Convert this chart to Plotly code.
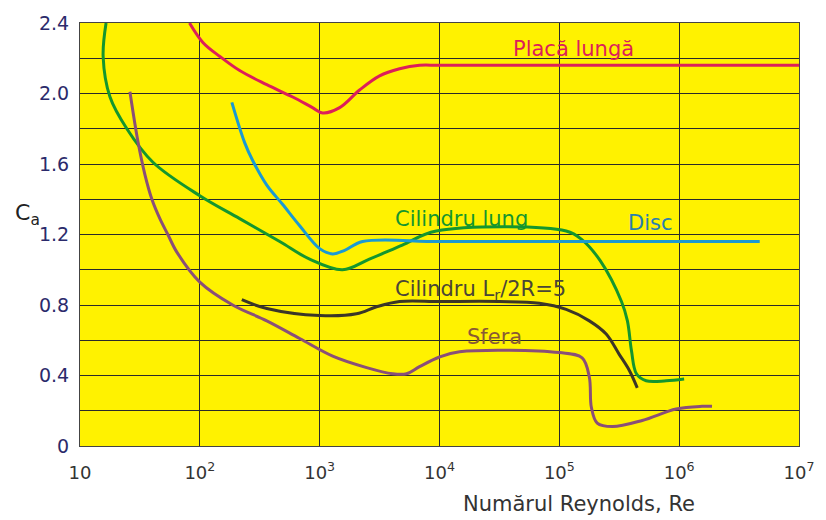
import plotly.graph_objects as go
import math

# ---------------- data (Re, Ca) ----------------
placa_re = [82, 106, 147, 215, 362, 596, 871, 1059, 1468, 2154, 3162, 4642, 6813, 1e4, 1e5, 1e6, 1e7]
placa_ca = [2.40, 2.29, 2.21, 2.13, 2.05, 1.98, 1.92, 1.89, 1.92, 2.02, 2.10, 2.14, 2.16, 2.16, 2.16, 2.16, 2.16]

cil_lung_re = [16.5, 15.6, 17.8, 24.6, 40.6, 100, 215, 464, 825, 1550, 2600, 4900, 9400,
               1.14e5, 1.55e5, 2.2e5, 3.3e5, 3.7e5, 4.0e5, 4.4e5, 5.3e5, 7.8e5, 1.1e6]
cil_lung_ca = [2.40, 2.21, 1.98, 1.80, 1.61, 1.42, 1.29, 1.16, 1.06, 1.00, 1.06, 1.14, 1.22,
               1.22, 1.17, 1.05, 0.82, 0.71, 0.54, 0.41, 0.37, 0.37, 0.38]

disc_re = [185, 237, 276, 362, 492, 681, 1000, 1283, 1616, 2280, 1e4, 1e5, 1e6, 4.7e6]
disc_ca = [1.95, 1.72, 1.62, 1.48, 1.37, 1.25, 1.12, 1.09, 1.11, 1.16, 1.16, 1.16, 1.16, 1.16]

cil5_re = [224, 362, 1000, 2030, 2985, 4640, 1e4, 31600, 68100, 1.14e5, 1.78e5, 2.46e5, 3.16e5, 3.83e5, 4.47e5]
cil5_ca = [0.83, 0.78, 0.74, 0.75, 0.79, 0.82, 0.82, 0.82, 0.81, 0.775, 0.71, 0.635, 0.52, 0.43, 0.33]

sfera_re = [26.1, 30.4, 34.8, 39.8, 46.4, 54.1, 64.3, 100, 188, 362, 681, 1284, 2465, 4060, 5310,
            6810, 1e4, 14700, 1e5, 1.55e5, 1.78e5, 1.85e5, 2.07e5, 2.77e5, 4.92e5, 9.44e5, 1.55e6, 1.88e6]
sfera_ca = [2.01, 1.73, 1.54, 1.40, 1.29, 1.20, 1.10, 0.93, 0.80, 0.71, 0.61, 0.51, 0.445, 0.41, 0.41,
            0.45, 0.505, 0.535, 0.53, 0.50, 0.39, 0.22, 0.13, 0.11, 0.145, 0.21, 0.225, 0.225]

x_tickvals = [10, 100, 1e3, 1e4, 1e5, 1e6, 1e7]
x_ticktext = ["10", "10<sup>2</sup>", "10<sup>3</sup>", "10<sup>4</sup>",
              "10<sup>5</sup>", "10<sup>6</sup>", "10<sup>7</sup>"]
y_tickvals = [0, 0.2, 0.4, 0.6, 0.8, 1.0, 1.2, 1.4, 1.6, 1.8, 2.0, 2.2, 2.4]
y_ticktext = ["0", "", "0.4", "", "0.8", "", "1.2", "", "1.6", "", "2.0", "", "2.4"]

# curve labels: text, Re position, Ca position, colour
labels = [
    ("Placă lungă", 10 ** 5.12, 2.25, "#dc1f5a"),
    ("Cilindru lung", 10 ** 4.18, 1.29, "#14962e"),
    ("Disc", 10 ** 5.76, 1.265, "#2a7fae"),
    ("Cilindru L<sub>r</sub>/2R=5", 10 ** 4.34, 0.885, "#4a4636"),
    ("Sfera", 10 ** 4.46, 0.62, "#8a5a34"),
]

YELLOW = "#fff200"
C_RED = "#dc1f5a"
C_GREEN = "#14962e"
C_BLUE = "#1b9ad2"
C_DARK = "#3b3628"
C_PURPLE = "#8a4f78"

fig = go.Figure()
series = [
    (placa_re, placa_ca, C_RED),
    (cil_lung_re, cil_lung_ca, C_GREEN),
    (disc_re, disc_ca, C_BLUE),
    (cil5_re, cil5_ca, C_DARK),
    (sfera_re, sfera_ca, C_PURPLE),
]
for xr, yc, col in series:
    fig.add_trace(go.Scatter(x=xr, y=yc, mode="lines",
                             line=dict(color=col, width=3, shape="spline", smoothing=1.0),
                             showlegend=False, hoverinfo="skip"))

FONT = "DejaVu Sans"

# yellow masks behind the labels (hide grid lines, stay below curves)
masks = [
    (0.584, 0.786, 0.916, 0.965),
    (0.740, 0.834, 0.496, 0.553),
    (0.435, 0.680, 0.340, 0.396),
    (0.502, 0.663, 0.237, 0.279),
]
for x0, x1, y0, y1 in masks:
    fig.add_shape(type="rect", xref="paper", yref="paper", x0=x0, x1=x1, y0=y0, y1=y1,
                  fillcolor=YELLOW, line=dict(width=0), layer="between")

for text, xr, yc, col in labels:
    fig.add_annotation(x=math.log10(xr), y=yc, xref="x", yref="y", text=text,
                       showarrow=False, xanchor="center", yanchor="middle",
                       font=dict(family=FONT, size=21, color=col))

fig.add_annotation(x=-0.093, y=0.548, xref="paper", yref="paper", text="C<sub>a</sub>",
                   showarrow=False, xanchor="left", yanchor="middle",
                   font=dict(family=FONT, size=22, color="#222222"))
fig.add_annotation(x=0.694, y=-0.138, xref="paper", yref="paper", text="Numărul Reynolds, Re",
                   showarrow=False, xanchor="center", yanchor="middle",
                   font=dict(family=FONT, size=21, color="#333333"))

fig.update_layout(
    width=826, height=520,
    margin=dict(l=80, r=27, t=19, b=74),
    paper_bgcolor="white", plot_bgcolor=YELLOW,
    xaxis=dict(type="log", range=[1, 7], tickvals=x_tickvals, ticktext=x_ticktext,
               showgrid=True, gridcolor="#2a2a2a", gridwidth=1,
               showline=True, linecolor="#444444", linewidth=1, mirror=True,
               ticks="", ticklabelstandoff=10, zeroline=False,
               tickfont=dict(family=FONT, size=18, color="#333333")),
    yaxis=dict(range=[0, 2.4], tickvals=y_tickvals, ticktext=y_ticktext,
               showgrid=True, gridcolor="#2a2a2a", gridwidth=1,
               showline=True, linecolor="#444444", linewidth=1, mirror=True,
               ticks="", ticklabelstandoff=6, zeroline=False,
               tickfont=dict(family=FONT, size=19, color="#2b2a6b")),
)

fig.write_html("out.html")
